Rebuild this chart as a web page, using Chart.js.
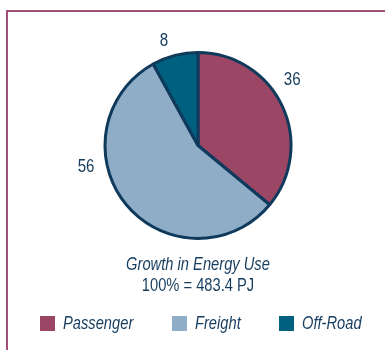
<!DOCTYPE html>
<html>
<head>
<meta charset="utf-8">
<script src="https://cdn.jsdelivr.net/npm/chart.js@4.4.1/dist/chart.umd.min.js"></script>
<style>
  html, body { margin: 0; padding: 0; background: #ffffff; }
  #wrap { position: relative; width: 385px; height: 350px; }
</style>
</head>
<body>
<div id="wrap"><canvas id="c" width="385" height="350"></canvas></div>
<script>
// Shares of growth in transport energy use (percent)
const categories = ['Passenger', 'Freight', 'Off-Road'];
const shares = [36, 56, 8];
const sliceColors = ['#9c4666', '#8fadc6', '#00607f'];
const titleLines = ['Growth in Energy Use', '100% = 483.4 PJ'];

const ink = '#163c5e';
const fontFamily = '"Liberation Sans", Arial, sans-serif';
const squeeze = 0.84; // horizontal condensing of all text

// Where each value label sits around the pie: angle clockwise from 12 o'clock, distance beyond the rim
const labelPlacement = [
  { angle: 55, gap: 22 },
  { angle: 259, gap: 21 },
  { angle: -18, gap: 17 }
];

// draw condensed text; align is 'left' or 'center'
function narrowText(ctx, text, x, y, align) {
  ctx.save();
  ctx.translate(x, y);
  ctx.scale(squeeze, 1);
  ctx.textAlign = align;
  ctx.fillText(text, 0, 0);
  ctx.restore();
}

const decorPlugin = {
  id: 'decor',
  beforeDraw(chart) {
    const ctx = chart.ctx;
    ctx.save();
    ctx.strokeStyle = '#a04f77';
    ctx.lineWidth = 2;
    ctx.beginPath();
    ctx.moveTo(7, 350);
    ctx.lineTo(7, 11);
    ctx.lineTo(385, 11);
    ctx.stroke();
    ctx.restore();
  },
  afterDraw(chart) {
    const ctx = chart.ctx;
    const arc = chart.getDatasetMeta(0).data[0];
    const cx = arc.x, cy = arc.y, r = arc.outerRadius;
    ctx.save();
    ctx.fillStyle = ink;
    ctx.textBaseline = 'middle';

    // value labels
    ctx.font = '18px ' + fontFamily;
    chart.data.datasets[0].data.forEach((v, i) => {
      const p = labelPlacement[i];
      const a = p.angle * Math.PI / 180;
      const d = r + p.gap;
      narrowText(ctx, String(v), cx + Math.sin(a) * d, cy - Math.cos(a) * d, 'center');
    });

    // caption below the pie
    ctx.font = 'italic 17.5px ' + fontFamily;
    narrowText(ctx, titleLines[0], 198, 265, 'center');
    ctx.font = '17.5px ' + fontFamily;
    narrowText(ctx, titleLines[1], 198, 286, 'center');

    // legend
    const legendX = [40, 172, 279];
    ctx.font = 'italic 17.5px ' + fontFamily;
    chart.data.labels.forEach((lab, i) => {
      ctx.fillStyle = sliceColors[i];
      ctx.fillRect(legendX[i], 316, 15, 15);
      ctx.fillStyle = ink;
      narrowText(ctx, lab, legendX[i] + 23, 324, 'left');
    });
    ctx.restore();
  }
};

new Chart(document.getElementById('c'), {
  type: 'pie',
  data: {
    labels: categories,
    datasets: [{
      data: shares,
      backgroundColor: sliceColors,
      borderColor: '#0f3a5c',
      borderWidth: 3
    }]
  },
  options: {
    responsive: false,
    animation: false,
    layout: { padding: { top: 51, bottom: 110, left: 103, right: 92 } },
    plugins: {
      legend: { display: false },
      tooltip: { enabled: false }
    }
  },
  plugins: [decorPlugin]
});
</script>
</body>
</html>
